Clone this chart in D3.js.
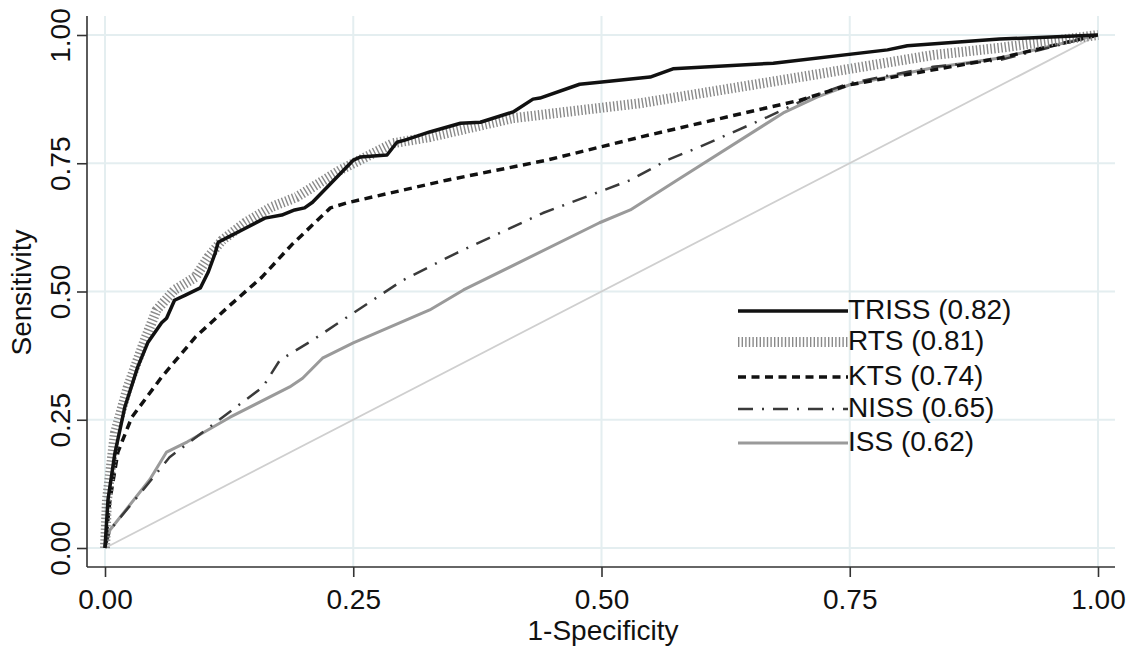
<!DOCTYPE html>
<html>
<head>
<meta charset="utf-8">
<script src="https://cdn.jsdelivr.net/npm/d3@7"></script>
<style>
  body { margin: 0; background: #fff; }
  svg { display: block; font-family: "Liberation Sans", Arial, sans-serif; }
</style>
</head>
<body>
<svg></svg>
<script>
const width = 1128;
const height = 647;

// ROC points, [1-specificity, sensitivity]
const triss = [[0,0],[0.003,0.094],[0.010,0.185],[0.020,0.275],[0.033,0.353],[0.043,0.400],[0.057,0.439],[0.062,0.448],[0.070,0.483],[0.081,0.493],[0.096,0.507],[0.104,0.538],[0.111,0.575],[0.114,0.596],[0.124,0.606],[0.138,0.620],[0.161,0.643],[0.178,0.649],[0.191,0.659],[0.201,0.663],[0.209,0.674],[0.250,0.756],[0.257,0.762],[0.284,0.766],[0.294,0.791],[0.302,0.795],[0.327,0.811],[0.358,0.828],[0.378,0.830],[0.411,0.850],[0.431,0.875],[0.438,0.877],[0.478,0.904],[0.498,0.908],[0.549,0.918],[0.572,0.934],[0.673,0.945],[0.788,0.971],[0.808,0.979],[0.901,0.992],[1,1]];
const rts = [[0,0],[0.002,0.094],[0.010,0.224],[0.023,0.314],[0.040,0.405],[0.052,0.464],[0.070,0.503],[0.091,0.528],[0.104,0.567],[0.118,0.600],[0.141,0.634],[0.168,0.665],[0.193,0.684],[0.237,0.737],[0.290,0.789],[0.327,0.801],[0.411,0.838],[0.539,0.867],[0.700,0.918],[0.834,0.961],[0.901,0.975],[1,1]];
const kts = [[0,0],[0.005,0.094],[0.013,0.187],[0.027,0.255],[0.057,0.333],[0.091,0.411],[0.124,0.470],[0.158,0.528],[0.188,0.591],[0.227,0.663],[0.244,0.673],[0.344,0.717],[0.445,0.756],[0.539,0.801],[0.599,0.828],[0.700,0.873],[0.750,0.903],[0.834,0.932],[0.901,0.955],[1,1]];
const niss = [[0,0],[0.005,0.035],[0.045,0.129],[0.065,0.177],[0.159,0.314],[0.176,0.366],[0.209,0.405],[0.250,0.458],[0.300,0.522],[0.354,0.575],[0.441,0.653],[0.529,0.717],[0.566,0.756],[0.599,0.782],[0.667,0.840],[0.710,0.879],[0.750,0.906],[0.834,0.938],[0.901,0.951],[1,1]];
const iss = [[0,0],[0.005,0.035],[0.045,0.133],[0.062,0.187],[0.083,0.207],[0.126,0.255],[0.186,0.314],[0.199,0.331],[0.219,0.370],[0.250,0.400],[0.327,0.464],[0.361,0.503],[0.498,0.634],[0.529,0.659],[0.576,0.717],[0.683,0.848],[0.717,0.879],[0.750,0.903],[0.834,0.936],[0.901,0.955],[1,1]];
const reference = [[0,0],[1,1]];

const labels = ["TRISS (0.82)", "RTS (0.81)", "KTS (0.74)", "NISS (0.65)", "ISS (0.62)"];
const tickValues = [0, 0.25, 0.5, 0.75, 1];

// line styles per series
const styles = [
    {data: triss, stroke: "#111", width: 3.5, dash: null},
    {data: rts, stroke: "#8a8a8a", width: 10, dash: "1.4,2.2"},
    {data: kts, stroke: "#111", width: 3.5, dash: "8,5.5"},
    {data: niss, stroke: "#3a3a3a", width: 2.5, dash: "15,9,2,9"},
    {data: iss, stroke: "#9a9a9a", width: 3, dash: null}
];

const svg = d3.select("svg")
    .attr("width", width)
    .attr("height", height);

// plot region (Stata style: only left and bottom axes)
const plotLeft = 87, plotRight = 1115, plotTop = 16, plotBottom = 567;

const x = d3.scaleLinear().domain([0, 1]).range([105, 1098]);
const y = d3.scaleLinear().domain([0, 1]).range([548, 35]);

// grid
svg.append("g").selectAll("line")
    .data(tickValues)
    .enter().append("line")
    .attr("x1", d => x(d)).attr("x2", d => x(d))
    .attr("y1", plotTop).attr("y2", plotBottom)
    .attr("stroke", "#e4eef0").attr("stroke-width", 2);

svg.append("g").selectAll("line")
    .data(tickValues)
    .enter().append("line")
    .attr("x1", plotLeft).attr("x2", plotRight)
    .attr("y1", d => y(d)).attr("y2", d => y(d))
    .attr("stroke", "#e4eef0").attr("stroke-width", 2);

// axes
const xAxis = svg.append("g")
    .attr("transform", `translate(0,${plotBottom})`)
    .call(d3.axisBottom(x).tickValues(tickValues).tickSize(10).tickPadding(12).tickFormat(d3.format(".2f")));
xAxis.select(".domain").attr("d", `M${plotLeft},0H${plotRight}`);

const yAxis = svg.append("g")
    .attr("transform", `translate(${plotLeft},0)`)
    .call(d3.axisLeft(y).tickValues(tickValues).tickSize(10).tickFormat(d3.format(".2f")));
yAxis.select(".domain").attr("d", `M0,${plotTop}V${plotBottom}`);

svg.selectAll(".domain").attr("stroke", "#333").attr("stroke-width", 1.6);
svg.selectAll(".tick line").attr("stroke", "#333").attr("stroke-width", 1.6);
xAxis.selectAll("text")
    .attr("font-size", 28).attr("fill", "#111")
    .attr("font-family", "Liberation Sans, Arial, sans-serif");
yAxis.selectAll("text")
    .attr("font-size", 28).attr("fill", "#111")
    .attr("font-family", "Liberation Sans, Arial, sans-serif")
    .attr("text-anchor", "middle")
    .attr("dy", null)
    .attr("x", null)
    .attr("transform", "translate(-17,0) rotate(-90)");

// axis titles
svg.append("text")
    .attr("x", 603).attr("y", 640)
    .attr("text-anchor", "middle")
    .attr("font-size", 28).attr("fill", "#111")
    .text("1-Specificity");

svg.append("text")
    .attr("transform", `translate(31,${(plotTop + plotBottom) / 2 + 1}) rotate(-90)`)
    .attr("text-anchor", "middle")
    .attr("font-size", 28).attr("fill", "#111")
    .text("Sensitivity");

const line = d3.line()
    .x(d => x(d[0]))
    .y(d => y(d[1]));

// chance line
svg.append("path")
    .datum(reference)
    .attr("d", line)
    .attr("fill", "none")
    .attr("stroke", "#cfcfcf")
    .attr("stroke-width", 1.8);

// ROC curves, drawn bottom-up so TRISS ends on top
const order = [4, 3, 2, 1, 0];
order.forEach(i => {
    const s = styles[i];
    svg.append("path")
        .datum(s.data)
        .attr("d", line)
        .attr("fill", "none")
        .attr("stroke", s.stroke)
        .attr("stroke-width", s.width)
        .attr("stroke-dasharray", s.dash)
        .attr("stroke-linejoin", "round");
});

// legend
const legendY = [311, 342, 377, 409, 443];
const legend = svg.append("g");
styles.forEach((s, i) => {
    legend.append("line")
        .attr("x1", 738).attr("x2", 848)
        .attr("y1", legendY[i]).attr("y2", legendY[i])
        .attr("stroke", s.stroke)
        .attr("stroke-width", s.width)
        .attr("stroke-dasharray", s.dash);
    legend.append("text")
        .attr("x", 848).attr("y", legendY[i] + 8)
        .attr("font-size", 28).attr("fill", "#111")
        .text(labels[i]);
});
</script>
</body>
</html>
